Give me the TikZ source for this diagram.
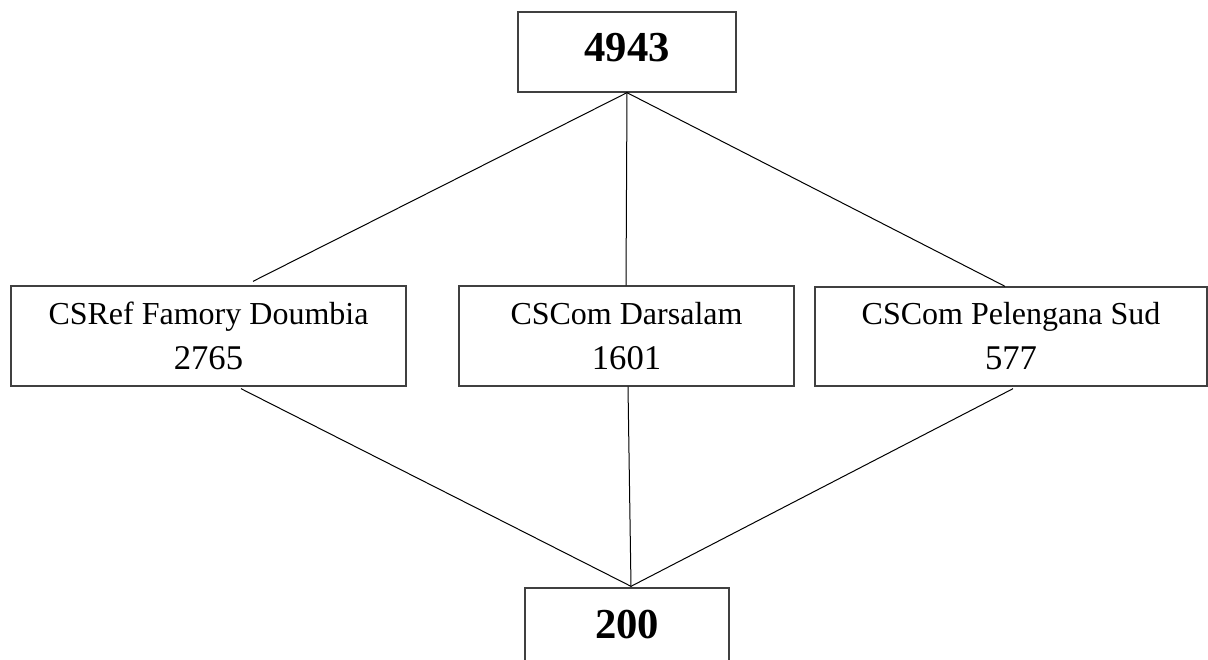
\documentclass[tikz,border=0pt]{standalone}
\usepackage{fontspec}
\setmainfont{Liberation Serif}
\begin{document}
\begin{tikzpicture}[x=0.75pt,y=-0.75pt,
  box/.style={draw=black!75,line width=1pt,rectangle,inner sep=0pt,align=center},
  link/.style={draw=black,line width=0.75pt},
  txt/.style={font=\fontsize{24}{33.75}\selectfont},
  big/.style={font=\fontsize{32}{36}\selectfont\bfseries,text depth=6.75pt}]
\useasboundingbox (0,0) rectangle (1208,660);
\node[box,big,minimum width=218*0.75pt,minimum height=80*0.75pt] (T) at (627,52) {4943};
\node[box,txt,minimum width=395*0.75pt,minimum height=100*0.75pt] (L) at (208.5,336)
  {CSRef Famory Doumbia\\{\fontsize{26}{33.75}\selectfont 2765}};
\node[box,txt,minimum width=335*0.75pt,minimum height=100*0.75pt] (M) at (626.5,336)
  {CSCom Darsalam\\{\fontsize{26}{33.75}\selectfont 1601}};
\node[box,txt,minimum width=392*0.75pt,minimum height=99*0.75pt] (R) at (1011,336.5)
  {CSCom Pelengana Sud\\{\fontsize{26}{33.75}\selectfont 577}};
\node[box,big,minimum width=204*0.75pt,minimum height=82*0.75pt] (B) at (627,629) {200};
\draw[link] (T.south) -- ([shift={(44.5,-4)}]L.north);
\draw[link] (T.south) -- ([shift={(-0.5,0)}]M.north);
\draw[link] (T.south) -- ([shift={(-6,0)}]R.north);
\draw[link] ([shift={(32.5,2)}]L.south) -- ([shift={(4,-1)}]B.north);
\draw[link] ([shift={(1.5,0)}]M.south) -- ([shift={(4,-1)}]B.north);
\draw[link] ([shift={(2,2)}]R.south) -- ([shift={(4,-1)}]B.north);
\end{tikzpicture}
\end{document}
